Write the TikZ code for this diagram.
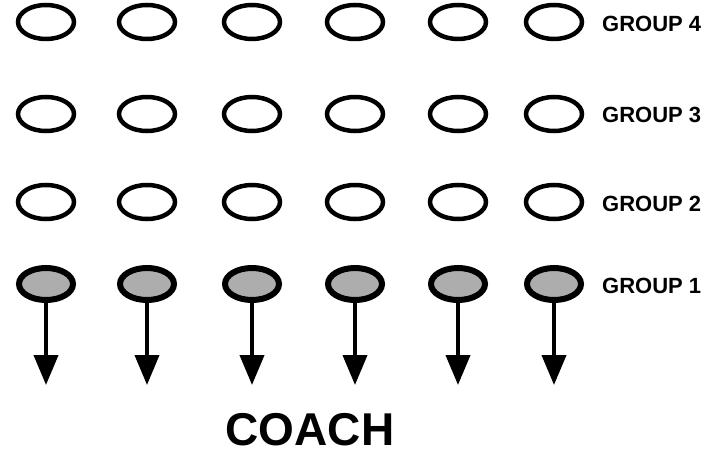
\documentclass[tikz,border=0pt]{standalone}
\usepackage{fontspec}
\setmainfont{Liberation Sans}
\usetikzlibrary{arrows.meta,positioning,shapes.geometric}
\tikzset{
  grpnode/.style={draw=black, ellipse, line width=4.5pt, minimum width=56pt,
    minimum height=34pt, inner sep=0pt},
  leadnode/.style={grpnode, line width=6pt, minimum width=54pt,
    minimum height=32pt, fill=black!32},
  grplabel/.style={anchor=base west, inner sep=0pt, font=\bfseries\fontsize{22pt}{24pt}\selectfont},
  leadarrow/.style={-{Triangle[length=30pt,width=24pt]}, line width=4pt, draw=black}
}
\begin{document}
\begin{tikzpicture}[x=1pt,y=1pt]
  \useasboundingbox (0,0) rectangle (720,456);
  % rows of players, group 1 at the bottom
  \foreach \c/\x in {1/46,2/147,3/252,4/355,5/458,6/554}{
    \node[grpnode] (gd\c) at (\x,434) {};
    \node[grpnode] (gc\c) at (\x,342) {};
    \node[grpnode] (gb\c) at (\x,254) {};
    \node[leadnode] (ga\c) at (\x,172) {};
    \coordinate (tip\c) at (\x,71);
    \draw[leadarrow] (ga\c.south) -- (tip\c);
  }
  \node[grplabel] (lD) at (602,424) {GROUP 4};
  \node[grplabel] (lC) at (602,333) {GROUP 3};
  \node[grplabel] (lB) at (602,245) {GROUP 2};
  \node[grplabel] (lA) at (602,163) {GROUP 1};
  \node[anchor=base, inner sep=0pt, font=\bfseries\fontsize{46pt}{48pt}\selectfont] (coach) at (310,11) {COACH};
\end{tikzpicture}
\end{document}
